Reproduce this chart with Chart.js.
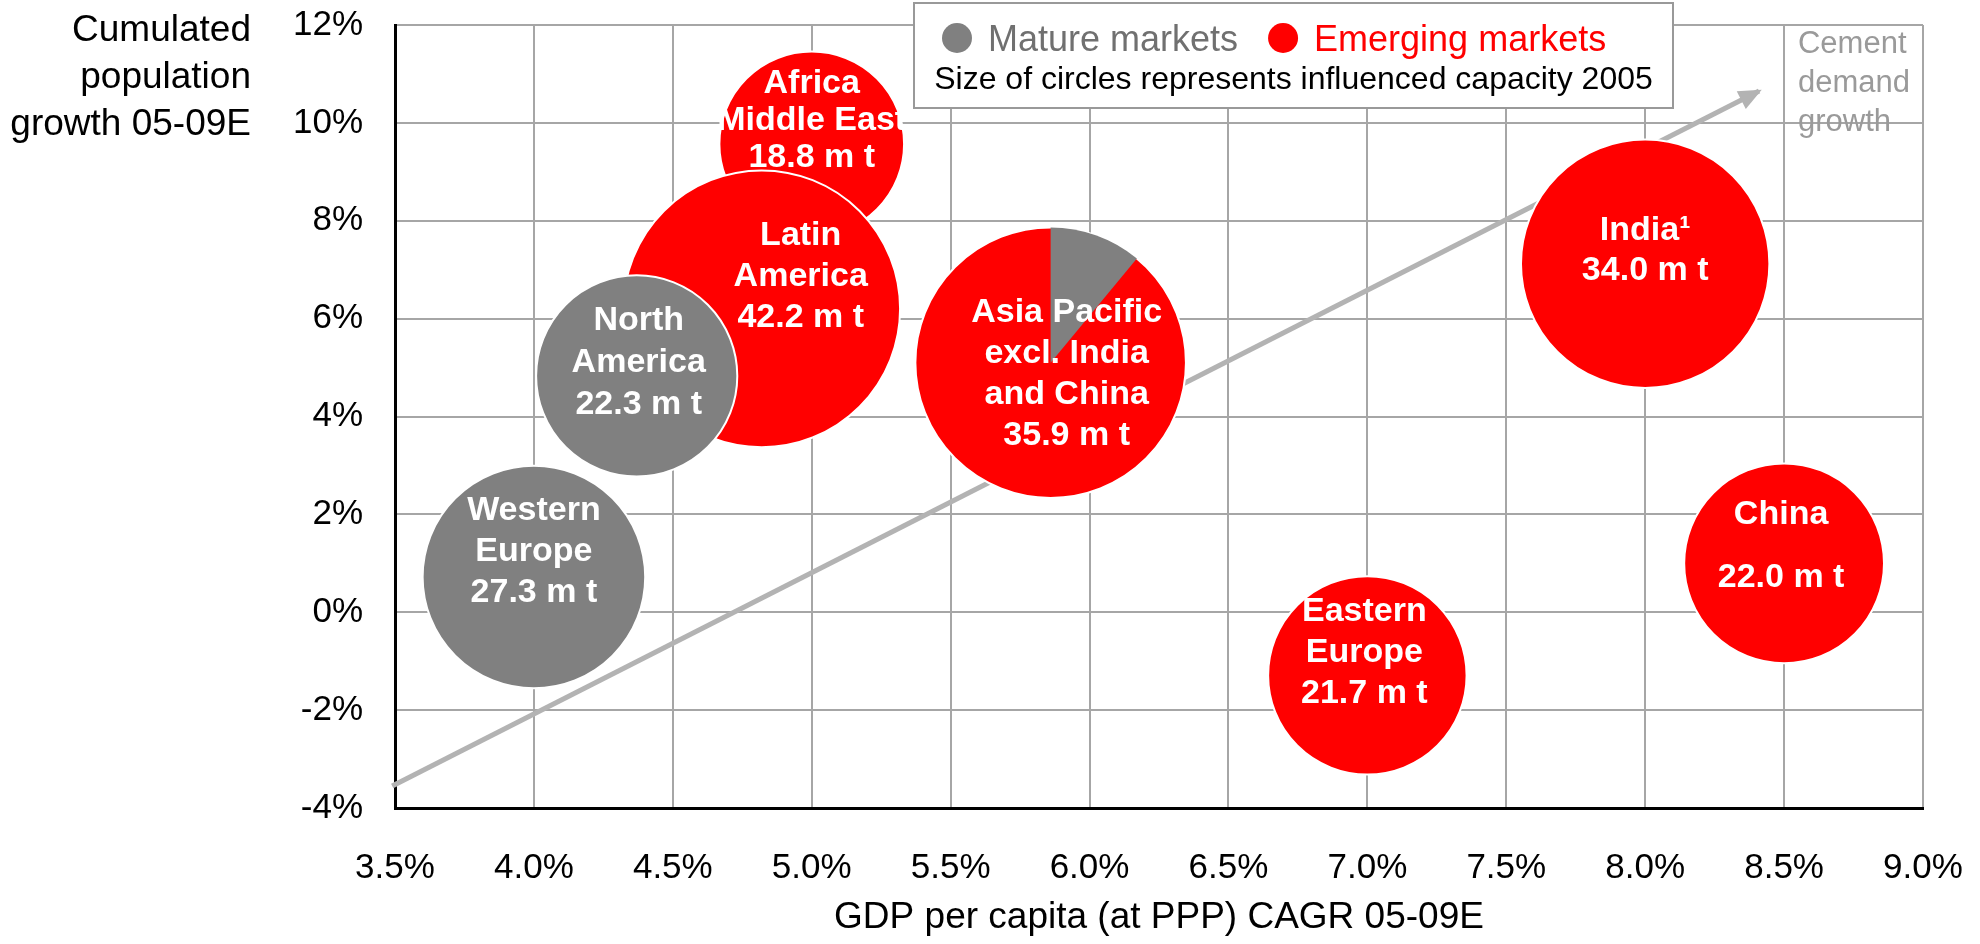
<!DOCTYPE html>
<html>
<head>
<meta charset="utf-8">
<title>Cement demand growth</title>
<script src="https://cdn.jsdelivr.net/npm/chart.js@4.4.1/dist/chart.umd.min.js"></script>
<style>
  html, body { margin: 0; padding: 0; background: #fff; }
  #wrap { width: 1980px; height: 944px; position: relative; }
</style>
</head>
<body>
<div id="wrap"><canvas id="bubbleChart"></canvas></div>
<script>
// Data regions
const regionNames = [
  ["Western", "Europe"],
  ["Africa", "Middle East"],
  ["Latin", "America"],
  ["North", "America"],
  ["Asia Pacific", "excl. India", "and China"],
  ["India\u00B9"],
  ["China"],
  ["Eastern", "Europe"],
];
const gdpGrowth = [4.0, 5.0, 4.82, 4.37, 5.86, 8.0, 8.5, 7.0]; // x, %
const popGrowth = [0.72, 9.57, 6.2, 4.83, 5.1, 7.12, 1.0, -1.29]; // y, %
const capacity = [27.3, 18.8, 42.2, 22.3, 35.9, 34.0, 22.0, 21.7]; // m t
const marketType = ["mature", "emerging", "emerging", "mature", "emerging", "emerging", "emerging", "emerging"];
const matureShare = [0, 0, 0, 0, 0.11, 0, 0, 0]; // grey slice in the Asia circle

// trend arrow "Cement demand growth"
const trendX = [3.49, 8.41];
const trendY = [-3.55, 10.65];

// tick labels
const xTicks = [3.5, 4.0, 4.5, 5.0, 5.5, 6.0, 6.5, 7.0, 7.5, 8.0, 8.5, 9.0];
const yTicks = [-4, -2, 0, 2, 4, 6, 8, 10, 12];

// looks
const FONT = "'Liberation Sans', Arial, Helvetica, sans-serif";
const marketColors = { mature: "#808080", emerging: "#ff0000" };
const PX_PER_SQRT_MT = 21.3; // circle area ~ capacity
// label block shift from the circle centre [dx, dy] and line height
const labelShift = [[0, -28], [0, -26], [39, -35], [2, -16], [16, 9], [0, -16], [-3, -20], [-3, -25]];
const labelLineH = [41, 37, 41, 42, 41, 40, 63, 41];

const bubbleData = gdpGrowth.map((x, i) => ({
  x: x,
  y: popGrowth[i],
  r: PX_PER_SQRT_MT * Math.sqrt(capacity[i] / (1 - matureShare[i])),
}));

// Plugin: grey slice + white labels inside the circles
const circleLabels = {
  id: "circleLabels",
  afterDatasetsDraw(chart) {
    const meta = chart.getDatasetMeta(1);
    const ctx = chart.ctx;
    ctx.save();
    meta.data.forEach((el, i) => {
      const r = el.options.radius;
      if (matureShare[i] > 0) {
        const start = -Math.PI / 2;
        ctx.beginPath();
        ctx.moveTo(el.x, el.y);
        ctx.arc(el.x, el.y, r, start, start + matureShare[i] * 2 * Math.PI);
        ctx.closePath();
        ctx.fillStyle = marketColors.mature;
        ctx.fill();
      }
    });
    ctx.fillStyle = "#fff";
    ctx.textAlign = "center";
    ctx.textBaseline = "alphabetic";
    ctx.font = "bold 34px " + FONT;
    meta.data.forEach((el, i) => {
      const lines = regionNames[i].concat([capacity[i].toFixed(1) + " m t"]);
      const lh = labelLineH[i];
      const cx = el.x + labelShift[i][0];
      const cy = el.y + labelShift[i][1];
      const top = cy - (lines.length - 1) * lh / 2;
      lines.forEach((t, k) => ctx.fillText(t, cx, top + k * lh + 12));
    });
    ctx.restore();
  },
};

// Plugin: arrow head, legend box, y axis title, trend note
const extras = {
  id: "extras",
  afterDraw(chart) {
    const ctx = chart.ctx;
    const xs = chart.scales.x;
    const ys = chart.scales.y;
    ctx.save();

    // arrow head at the end of the trend line
    const pts = chart.getDatasetMeta(0).data;
    const a = pts[0], b = pts[pts.length - 1];
    const ang = Math.atan2(b.y - a.y, b.x - a.x);
    ctx.translate(b.x, b.y);
    ctx.rotate(ang);
    ctx.beginPath();
    ctx.moveTo(3, 0);
    ctx.lineTo(-20, -10);
    ctx.lineTo(-20, 10);
    ctx.closePath();
    ctx.fillStyle = "#b3b3b3";
    ctx.fill();
    ctx.setTransform(1, 0, 0, 1, 0, 0);

    // trend note
    ctx.fillStyle = "#9a9a9a";
    ctx.font = "31px " + FONT;
    ctx.textAlign = "left";
    const nx = xs.getPixelForValue(8.55);
    const ny = ys.getPixelForValue(11.65);
    ["Cement", "demand", "growth"].forEach((t, k) => ctx.fillText(t, nx, ny + 11 + k * 39));

    // y axis title (horizontal, top left)
    ctx.fillStyle = "#000";
    ctx.font = "37px " + FONT;
    ctx.textAlign = "right";
    ["Cumulated", "population", "growth 05-09E"].forEach((t, k) => ctx.fillText(t, 251, 41 + k * 47));

    // legend box
    const bx = 914, by = 3, bw = 759, bh = 105;
    ctx.fillStyle = "#fff";
    ctx.fillRect(bx, by, bw, bh);
    ctx.strokeStyle = "#999";
    ctx.lineWidth = 2;
    ctx.strokeRect(bx, by, bw, bh);

    ctx.textAlign = "left";
    ctx.font = "36px " + FONT;
    let px = bx + 28;
    const rowY = 38;
    const items = [
      { text: "Mature markets", dot: marketColors.mature, color: "#707070" },
      { text: "Emerging markets", dot: marketColors.emerging, color: "#ff0000" },
    ];
    items.forEach((it) => {
      ctx.beginPath();
      ctx.arc(px + 15, rowY, 15, 0, 2 * Math.PI);
      ctx.fillStyle = it.dot;
      ctx.fill();
      px += 46;
      ctx.fillStyle = it.color;
      ctx.fillText(it.text, px, rowY + 13);
      px += ctx.measureText(it.text).width + 30;
    });
    ctx.fillStyle = "#000";
    ctx.font = "32px " + FONT;
    ctx.textAlign = "center";
    ctx.fillText("Size of circles represents influenced capacity 2005", bx + bw / 2, 89);

    ctx.restore();
  },
};

new Chart(document.getElementById("bubbleChart").getContext("2d"), {
  data: {
    datasets: [
      {
        type: "line",
        label: "Cement demand growth",
        data: trendX.map((x, i) => ({ x: x, y: trendY[i] })),
        borderColor: "#b3b3b3",
        borderWidth: 5,
        pointRadius: 0,
        clip: false,
        order: 2,
      },
      {
        type: "bubble",
        label: "Regions",
        data: bubbleData,
        backgroundColor: marketType.map((m) => marketColors[m]),
        borderColor: "#ffffff",
        borderWidth: 2,
        clip: false,
        order: 1,
      },
    ],
  },
  options: {
    responsive: true,
    maintainAspectRatio: false,
    animation: false,
    events: [],
    layout: { autoPadding: false, padding: { left: 0, top: 25, right: 57, bottom: 0 } },
    plugins: {
      legend: { display: false },
      tooltip: { enabled: false },
    },
    scales: {
      x: {
        type: "linear",
        min: 3.5,
        max: 9.0,
        afterBuildTicks: (s) => { s.ticks = xTicks.map((v) => ({ value: v })); },
        afterFit: (s) => {
          s.height = 136;
          s.paddingLeft = 0;
          s.paddingRight = 0;
        },
        grid: { color: "#a6a6a6", lineWidth: 2, drawTicks: false },
        border: { color: "#000", width: 3 },
        ticks: {
          color: "#000",
          padding: 39,
          maxRotation: 0,
          font: { family: FONT, size: 35 },
          callback: (v) => v.toFixed(1) + "%",
        },
        title: {
          display: true,
          text: "GDP per capita (at PPP) CAGR 05-09E",
          color: "#000",
          font: { family: FONT, size: 37 },
          padding: { top: 0, bottom: 4 },
        },
      },
      y: {
        type: "linear",
        min: -4,
        max: 12,
        afterBuildTicks: (s) => { s.ticks = yTicks.map((v) => ({ value: v })); },
        afterFit: (s) => {
          s.width = 395;
          s.paddingTop = 0;
          s.paddingBottom = 0;
        },
        grid: { color: "#a6a6a6", lineWidth: 2, drawTicks: false },
        border: { color: "#000", width: 3 },
        ticks: {
          color: "#000",
          padding: 32,
          font: { family: FONT, size: 35 },
          callback: (v) => v + "%",
        },
      },
    },
  },
  plugins: [circleLabels, extras],
});
</script>
</body>
</html>
